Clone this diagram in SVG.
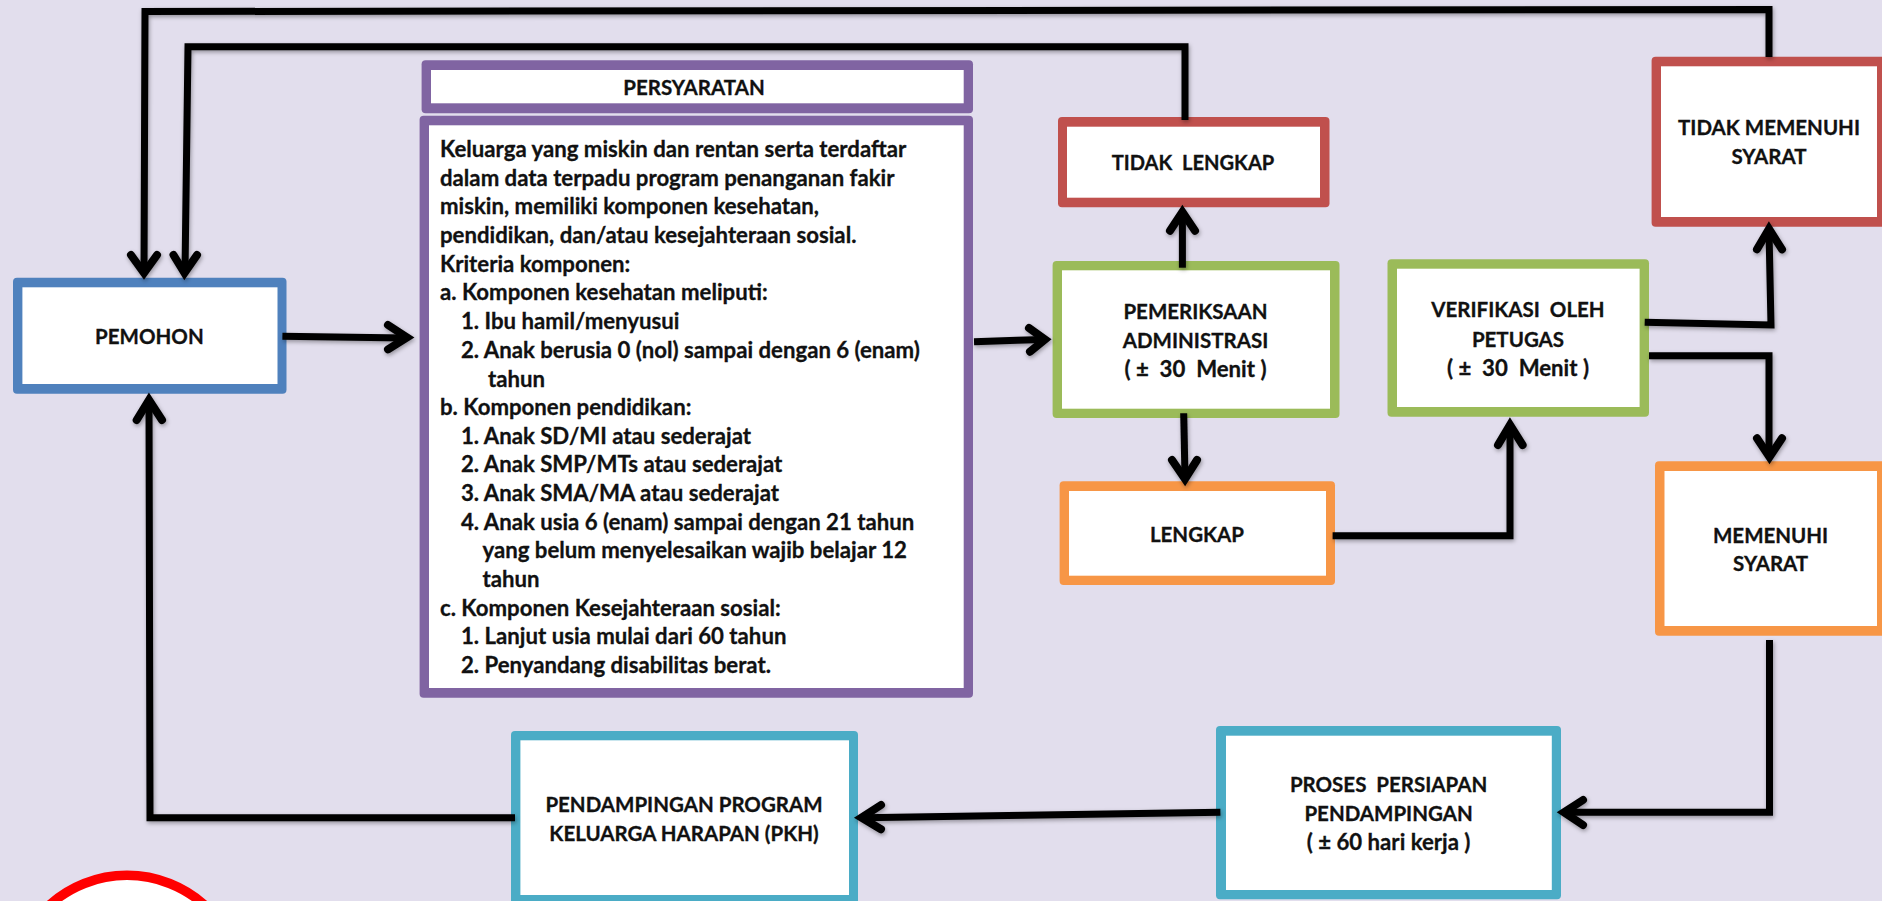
<svg xmlns="http://www.w3.org/2000/svg" width="1882" height="901" viewBox="0 0 1882 901">
<defs>
<filter id="sh" x="-10%" y="-10%" width="120%" height="120%" filterUnits="objectBoundingBox"><feDropShadow dx="1" dy="2" stdDeviation="2" flood-color="#000" flood-opacity="0.35"/></filter>
</defs>
<style>
text{font-family:"Lato","Carlito","Liberation Sans",sans-serif;font-weight:700;font-size:22.2px;fill:#111;stroke:#111;stroke-width:.3px;white-space:pre}
.c{text-anchor:middle}
.u{font-size:20.5px}
.w{fill:#fff}
.l{fill:none;stroke:#000;stroke-width:7;stroke-linejoin:miter}
.h{fill:none;stroke:#000;stroke-width:8;stroke-linecap:round;stroke-linejoin:miter}
</style>
<rect width="1882" height="901" fill="#E2DEED"/>
<g id="badge"><circle cx="127" cy="991.35" r="116" fill="#fff" stroke="#f00" stroke-width="9.5"/></g>
<g id="pemohon"><rect x="13" y="277.7" width="273.5" height="116" rx="4" fill="#4F81BD"/><rect class="w" x="22.4" y="287.3" width="255.1" height="96.7"/><text class="c u" x="149.4" y="344">PEMOHON</text></g>
<g id="persyaratan-head"><rect x="421.6" y="60.3" width="551.4" height="53" rx="4" fill="#8064A2"/><rect class="w" x="431" y="70" width="532.7" height="33.3"/><text class="c u" x="694" y="95">PERSYARATAN</text></g>
<g id="persyaratan-body"><rect x="419.6" y="115.7" width="553.4" height="582" rx="4" fill="#8064A2"/><rect class="w" x="429" y="125.3" width="534.7" height="562.7"/>
<text x="440" y="157">Keluarga yang miskin dan rentan serta terdaftar</text>
<text x="440" y="185.5">dalam data terpadu program penanganan fakir</text>
<text x="440" y="214">miskin, memiliki komponen kesehatan,</text>
<text x="440" y="243">pendidikan, dan/atau kesejahteraan sosial.</text>
<text x="440" y="272">Kriteria komponen:</text>
<text x="440" y="300">a. Komponen kesehatan meliputi:</text>
<text x="461" y="329">1. Ibu hamil/menyusui</text>
<text x="461" y="358">2. Anak berusia 0 (nol) sampai dengan 6 (enam)</text>
<text x="488" y="386.7">tahun</text>
<text x="440" y="415">b. Komponen pendidikan:</text>
<text x="461" y="444">1. Anak SD/MI atau sederajat</text>
<text x="461" y="472">2. Anak SMP/MTs atau sederajat</text>
<text x="461" y="500.7">3. Anak SMA/MA atau sederajat</text>
<text x="461" y="530">4. Anak usia 6 (enam) sampai dengan 21 tahun</text>
<text x="482.5" y="558">yang belum menyelesaikan wajib belajar 12</text>
<text x="482.5" y="586.7">tahun</text>
<text x="440" y="616">c. Komponen Kesejahteraan sosial:</text>
<text x="461" y="644">1. Lanjut usia mulai dari 60 tahun</text>
<text x="461" y="672.7">2. Penyandang disabilitas berat.</text>
</g>
<g id="tidak-lengkap"><rect x="1058" y="117" width="271.5" height="90.3" rx="4" fill="#C0504D"/><rect class="w" x="1067" y="126.7" width="253" height="71"/><text class="c u" x="1193" y="170" style="font-size:20.1px">TIDAK  LENGKAP</text></g>
<g id="pemeriksaan"><rect x="1052.6" y="261" width="286.9" height="157" rx="4" fill="#9BBB59"/><rect class="w" x="1062" y="270.3" width="268" height="138.4"/><text class="c u" x="1195.5" y="319.3">PEMERIKSAAN</text><text class="c u" x="1195.5" y="348.3">ADMINISTRASI</text><text class="c" x="1195.5" y="376.7">( ±  30  Menit )</text></g>
<g id="verifikasi"><rect x="1387.5" y="259.3" width="261.5" height="157.4" rx="4" fill="#9BBB59"/><rect class="w" x="1397" y="268.7" width="242.6" height="138.3"/><text class="c u" x="1518" y="317.3">VERIFIKASI  OLEH</text><text class="c u" x="1518" y="346.7">PETUGAS</text><text class="c" x="1518" y="375.7">( ±  30  Menit )</text></g>
<g id="tidak-memenuhi"><rect x="1651.6" y="56.7" width="240" height="170" rx="4" fill="#C0504D"/><rect class="w" x="1661" y="66.3" width="216" height="150.7"/><text class="c u" x="1769" y="135">TIDAK MEMENUHI</text><text class="c u" x="1769" y="164">SYARAT</text></g>
<g id="lengkap"><rect x="1059.6" y="481.3" width="275.4" height="103.7" rx="4" fill="#F79646"/><rect class="w" x="1069" y="491" width="257" height="84.7"/><text class="c u" x="1197" y="542">LENGKAP</text></g>
<g id="memenuhi"><rect x="1655" y="461.3" width="240" height="174.4" rx="4" fill="#F79646"/><rect class="w" x="1664.5" y="471" width="212.5" height="155"/><text class="c u" x="1770.6" y="543.3">MEMENUHI</text><text class="c u" x="1770.6" y="571">SYARAT</text></g>
<g id="proses"><rect x="1216" y="726" width="345" height="173.3" rx="4" fill="#4BACC6"/><rect class="w" x="1226" y="735.7" width="325.8" height="154.3"/><text class="c u" x="1388.6" y="792.3">PROSES  PERSIAPAN</text><text class="c u" x="1388.6" y="821">PENDAMPINGAN</text><text class="c" x="1388.6" y="850">( ± 60 hari kerja )</text></g>
<g id="pendampingan"><rect x="511" y="731" width="347" height="180" rx="4" fill="#4BACC6"/><rect class="w" x="520.4" y="740.3" width="328.6" height="154.7"/><text class="c u" x="684" y="812.3">PENDAMPINGAN PROGRAM</text><text class="c u" x="684" y="840.7">KELUARGA HARAPAN (PKH)</text></g>
<g id="connectors" filter="url(#sh)">
<path class="l" d="M1769 57V9.5L145 11.5L144 272"/><path class="h" d="M131 255L144 273L157 255"/>
<path class="l" d="M1185 120V46.7H188L185 272"/><path class="h" d="M173.5 255L184.5 273L197 255"/>
<path class="l" d="M282.4 336.3L405 338"/><path class="h" d="M388 325L407 337.5L388 349.3"/>
<path class="l" d="M974 341.7L1043 339.5"/><path class="h" d="M1029 328L1045 339.5L1030 351.7"/>
<path class="l" d="M1182.4 267.7V214"/><path class="h" d="M1170 230.7L1182.4 212L1195 230.7"/>
<path class="l" d="M1183.7 413.3L1185 477"/><path class="h" d="M1172 460L1185 479L1197 460"/>
<path class="l" d="M1332.6 535.7H1510V427"/><path class="h" d="M1498 445L1510 425L1522.6 445"/>
<path class="l" d="M1644.7 322.3L1771 325L1769 231"/><path class="h" d="M1757 249.3L1769 229L1782 249.3"/>
<path class="l" d="M1649 355.7H1769V455"/><path class="h" d="M1757 438.3L1769.5 457L1782 438.3"/>
<path class="l" d="M1769.5 640V812.3H1566"/><path class="h" d="M1583 800L1564 812.3L1583 825"/>
<path class="l" d="M1220.4 812.3L863 817.7"/><path class="h" d="M881 805L861.5 817.7L881 829.3"/>
<path class="l" d="M515 817.7H150L149 402"/><path class="h" d="M136.7 420L149 400L162 420"/>
</g>
</svg>
